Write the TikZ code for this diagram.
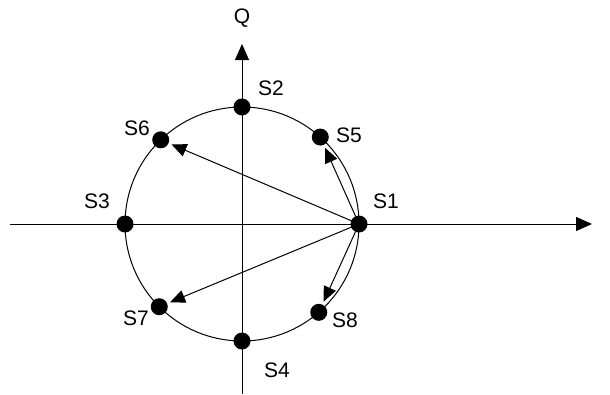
\documentclass[tikz,border=0pt]{standalone}
\usepackage{fontspec}
\setmainfont{Liberation Sans}
\usetikzlibrary{arrows.meta,calc}
\begin{document}
\begin{tikzpicture}[x=1pt,y=-1pt,
  dot/.style={circle,fill=black,inner sep=0pt,minimum size=17pt},
  lbl/.style={font=\fontsize{21}{24}\selectfont},
  axis/.style={line width=1pt,-{Triangle[length=16pt,width=14pt]}},
  vec/.style={line width=1pt,-{Triangle[length=15pt,width=13pt]},shorten >=3pt}]
\useasboundingbox (0,0) rectangle (610,394);
\coordinate (c) at (242,224);
\coordinate (xl) at (10,224);
\coordinate (xr) at (592,224);
\coordinate (yb) at (242,394);
\coordinate (yt) at (242,44);
\draw[axis] (xl) -- (xr);
\draw[axis] (yb) -- (yt);
\draw[line width=1pt] (c) circle (117);
% angles negated because the y axis points down
\node[dot] (s1) at ($(c)+(0:117)$) {};
\node[dot] (s2) at ($(c)+(-90:117)$) {};
\node[dot] (s3) at ($(c)+(180:117)$) {};
\node[dot] (s4) at ($(c)+(90:117)$) {};
\node[dot] (s5) at ($(c)+(-48:117)$) {};
\node[dot] (s6) at ($(c)+(-134:117)$) {};
\node[dot] (s7) at ($(c)+(135:117)$) {};
\node[dot] (s8) at ($(c)+(49:117)$) {};
\draw[vec] (s1.center) -- (s5);
\draw[vec] (s1.center) -- (s6);
\draw[vec] (s1.center) -- (s7);
\draw[vec] (s1.center) -- (s8);
\node[lbl] (q) at (242,18) {Q};
\node[lbl] (l1) at (386,201) {S1};
\node[lbl] (l2) at (271,88) {S2};
\node[lbl] (l3) at (97,201) {S3};
\node[lbl] (l4) at (277,370) {S4};
\node[lbl] (l5) at (349,135) {S5};
\node[lbl] (l6) at (137,128) {S6};
\node[lbl] (l7) at (136,318) {S7};
\node[lbl] (l8) at (345,320) {S8};
\end{tikzpicture}
\end{document}
